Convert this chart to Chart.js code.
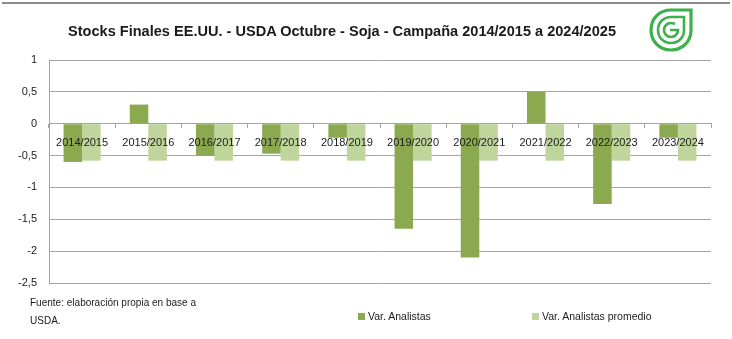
<!DOCTYPE html>
<html>
<head>
<meta charset="utf-8">
<script src="https://cdn.jsdelivr.net/npm/chart.js@4.4.0/dist/chart.umd.min.js"></script>
<style>
  html, body { margin: 0; padding: 0; background: #fff; }
  #wrap { position: relative; width: 732px; height: 339px; overflow: hidden; font-family: "Liberation Sans", Arial, sans-serif; }
  #topline { position: absolute; left: 2px; top: 2px; width: 728px; height: 0; border-top: 2px solid #8c8c8c; }
  #title { position: absolute; left: 0; top: 22px; white-space: nowrap; font-weight: bold; font-size: 15px; color: #1a1a1a; transform-origin: 0 0; }
  #foot { position: absolute; left: 30px; top: 293px; font-size: 11.5px; line-height: 18px; color: #1a1a1a; white-space: nowrap; transform-origin: 0 0; }
  .leg { position: absolute; top: 310px; font-size: 10.5px; color: #1a1a1a; white-space: nowrap; }
  .sw { display: inline-block; width: 7px; height: 7px; margin-right: 3px; vertical-align: 0px; }
  #logo { position: absolute; left: 648px; top: 8px; }
  canvas { position: absolute; left: 0; top: 0; }
</style>
</head>
<body>
<div id="wrap">
  <canvas id="c" width="732" height="339"></canvas>
  <div id="topline"></div>
  <div id="title">Stocks Finales EE.UU. - USDA Octubre - Soja - Campaña 2014/2015 a 2024/2025</div>
  <svg id="logo" width="46" height="44" viewBox="0 0 46 44">
    <path d="M43,2 L43,22 C43,34 34,42 23,42 C11,42 3,33 3,22 C3,10 12,2 23,2 Z" fill="none" stroke="#3db04b" stroke-width="3.2"/>
    <path d="M36,9 L36,22 C36,30 30,35 23,35 C15,35 10,29 10,22 C10,14 16,9 23,9 Z" fill="none" stroke="#3db04b" stroke-width="2.6"/>
    <path d="M27,16 C25,15 24,15 23,15 C19,15 16,18 16,22 C16,26 19,29 23,29 C27,29 30,26 30,22 L22,22" fill="none" stroke="#3db04b" stroke-width="2.6"/>
  </svg>
  <div id="foot">Fuente: elaboración propia en base a<br>USDA.</div>
  <div class="leg" id="leg1" style="left:358px"><span class="sw" style="background:#8ba94f"></span>Var. Analistas</div>
  <div class="leg" id="leg2" style="left:532px"><span class="sw" style="background:#bfd59c"></span>Var. Analistas promedio</div>
</div>
<script>
const categories = ['2014/2015','2015/2016','2016/2017','2017/2018','2018/2019','2019/2020','2020/2021','2021/2022','2022/2023','2023/2024'];
const varAnalistas = [-0.6, 0.3, -0.5, -0.47, -0.22, -1.65, -2.1, 0.5, -1.26, -0.22];
const varAnalistasPromedio = [-0.58, -0.58, -0.58, -0.58, -0.58, -0.58, -0.58, -0.58, -0.58, -0.58];
const seriesNames = ['Var. Analistas', 'Var. Analistas promedio'];
const yTicks = [1, 0.5, 0, -0.5, -1, -1.5, -2, -2.5];

(function(){
  const t = document.getElementById('title');
  const w = t.getBoundingClientRect().width;
  t.style.transform = 'scaleX(' + (548 / w) + ')';
  t.style.left = '68px';
  const f = document.getElementById('foot');
  const fw = f.getBoundingClientRect().width;
  f.style.transform = 'scaleX(' + (166 / fw) + ')';
})();

const gridColor = '#a3a3a3';
new Chart(document.getElementById('c'), {
  type: 'bar',
  data: {
    labels: categories,
    datasets: [
      { label: seriesNames[0], data: varAnalistas, backgroundColor: '#8ba94f', categoryPercentage: 0.56, barPercentage: 1.0 },
      { label: seriesNames[1], data: varAnalistasPromedio, backgroundColor: '#bfd59c', categoryPercentage: 0.56, barPercentage: 1.0 }
    ]
  },
  options: {
    responsive: false,
    animation: false,
    layout: { padding: { top: 60, bottom: 56, left: 0, right: 21 } },
    plugins: { legend: { display: false }, title: { display: false }, tooltip: { enabled: false } },
    scales: {
      x: {
        position: { y: 0 },
        grid: { drawOnChartArea: false, drawTicks: true, tickLength: 4, offset: true, color: gridColor },
        border: { color: gridColor, width: 1 },
        ticks: { z: 1, color: '#1a1a1a', font: { family: 'Liberation Sans', size: 11 }, padding: 9, maxRotation: 0, autoSkip: false }
      },
      y: {
        min: -2.5, max: 1,
        afterFit: (s) => { s.width = 49; },
        afterBuildTicks: (s) => { s.ticks = yTicks.map(v => ({ value: v })); },
        grid: { color: gridColor, lineWidth: 1, drawTicks: false },
        border: { color: gridColor, width: 1 },
        ticks: { color: '#1a1a1a', font: { family: 'Liberation Sans', size: 11 }, padding: 12,
          callback: (v) => String(v).replace('.', ',') }
      }
    }
  }
});
</script>
</body>
</html>
